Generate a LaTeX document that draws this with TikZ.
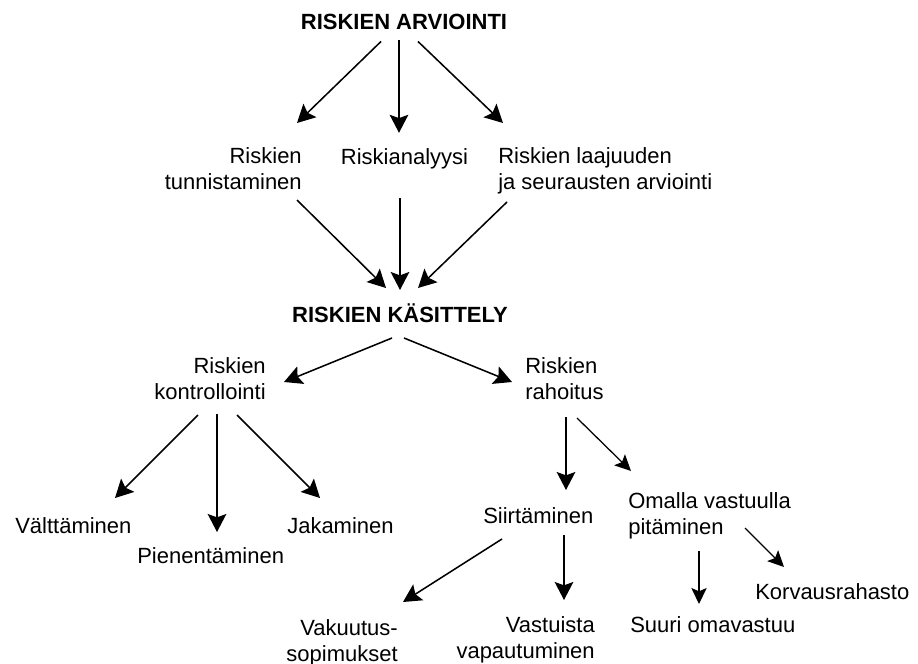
\documentclass[tikz,border=0pt]{standalone}
\usepackage{fontspec}
\setmainfont{Liberation Sans}
\usetikzlibrary{arrows.meta, positioning, calc}
\tikzset{
  lbl/.style={inner sep=0pt, font=\fontsize{16.5pt}{19.5pt}\selectfont},
  head/.style={inner sep=0pt, font=\fontsize{16.5pt}{19.5pt}\selectfont\bfseries},
  arrow/.style={line width=1.15pt, -{Stealth[length=13.5pt, width=14pt, inset=2.5pt]}},
  smallarrow/.style={line width=0.95pt, -{Stealth[length=12pt, width=11.5pt, inset=2.5pt]}}
}
\begin{document}
\begin{tikzpicture}[x=0.75pt, y=-0.75pt]
\useasboundingbox (0,0) rectangle (918,664);

\node (arv) [head, anchor=base] at (404,29) {RISKIEN ARVIOINTI};
\node (tun) [lbl, align=right, anchor=north east] at (302,147) {Riskien\\tunnistaminen};
\node (ana) [lbl, anchor=base] at (404.5,164) {Riskianalyysi};
\node (laa) [lbl, align=left, anchor=north west] at (498,147) {Riskien laajuuden\\ja seurausten arviointi};
\node (kas) [head, anchor=base] at (400,322) {RISKIEN KÄSITTELY};
\node (kon) [lbl, align=right, anchor=north east] at (266,357) {Riskien\\kontrollointi};
\node (rah) [lbl, align=left, anchor=north west] at (525,357) {Riskien\\rahoitus};
\node (val) [lbl, anchor=base west] at (15,533) {Välttäminen};
\node (pie) [lbl, anchor=base west] at (137,563) {Pienentäminen};
\node (jak) [lbl, anchor=base west] at (287,533) {Jakaminen};
\node (sii) [lbl, anchor=base west] at (483,523) {Siirtäminen};
\node (oma) [lbl, align=left, anchor=north west] at (628,492) {Omalla vastuulla\\pitäminen};
\node (vak) [lbl, align=right, anchor=north east] at (398,619) {Vakuutus-\\sopimukset};
\node (vas) [lbl, align=right, anchor=north east] at (595,616) {Vastuista\\vapautuminen};
\node (suu) [lbl, anchor=base west] at (630,632) {Suuri omavastuu};
\node (kor) [lbl, anchor=base west] at (755,599) {Korvausrahasto};

\draw [arrow] ($(arv.south)+(-23,12)$) -- ($(tun.north east)+(-5,-24)$);
\draw [arrow] ($(arv.south)+(-5,11)$) -- ($(ana.north)+(-5.5,-15)$);
\draw [arrow] ($(arv.south)+(14,12)$) -- ($(laa.north west)+(5,-24)$);

\draw [arrow] ($(tun.north east)+(-5,53)$) -- ($(kas.base)+(-14,-34)$);
\draw [arrow] ($(ana.base)+(-4.5,34)$) -- ($(kas.base)+(0,-32)$);
\draw [arrow] ($(laa.north west)+(9,55)$) -- ($(kas.base)+(18,-34)$);

\draw [arrow] ($(kas.base)+(-8,16)$) -- ($(kon.north east)+(18,25)$);
\draw [arrow] ($(kas.base)+(4,16)$) -- ($(rah.north west)+(-13,25)$);

\draw [arrow] ($(kon.north east)+(-68,58)$) -- ($(val.base west)+(100,-35)$);
\draw [arrow] ($(kon.north east)+(-49,57)$) -- ($(pie.base west)+(80,-31)$);
\draw [arrow] ($(kon.north east)+(-29,58)$) -- ($(jak.base west)+(33,-35)$);

\draw [arrow] ($(rah.north west)+(41,60)$) -- ($(sii.base west)+(83,-33)$);
\draw [smallarrow] ($(rah.north west)+(52,61)$) -- ($(oma.north west)+(3,-21)$);

\draw [arrow] ($(sii.base west)+(19,16)$) -- ($(vak.north east)+(5,-17)$);
\draw [arrow] ($(sii.base west)+(81,12)$) -- ($(vas.north east)+(-31,-16)$);

\draw [smallarrow] ($(oma.north west)+(71,59)$) -- ($(suu.base west)+(69,-28)$);
\draw [smallarrow] ($(oma.north west)+(117,36)$) -- ($(kor.base west)+(29,-32)$);

\end{tikzpicture}
\end{document}
